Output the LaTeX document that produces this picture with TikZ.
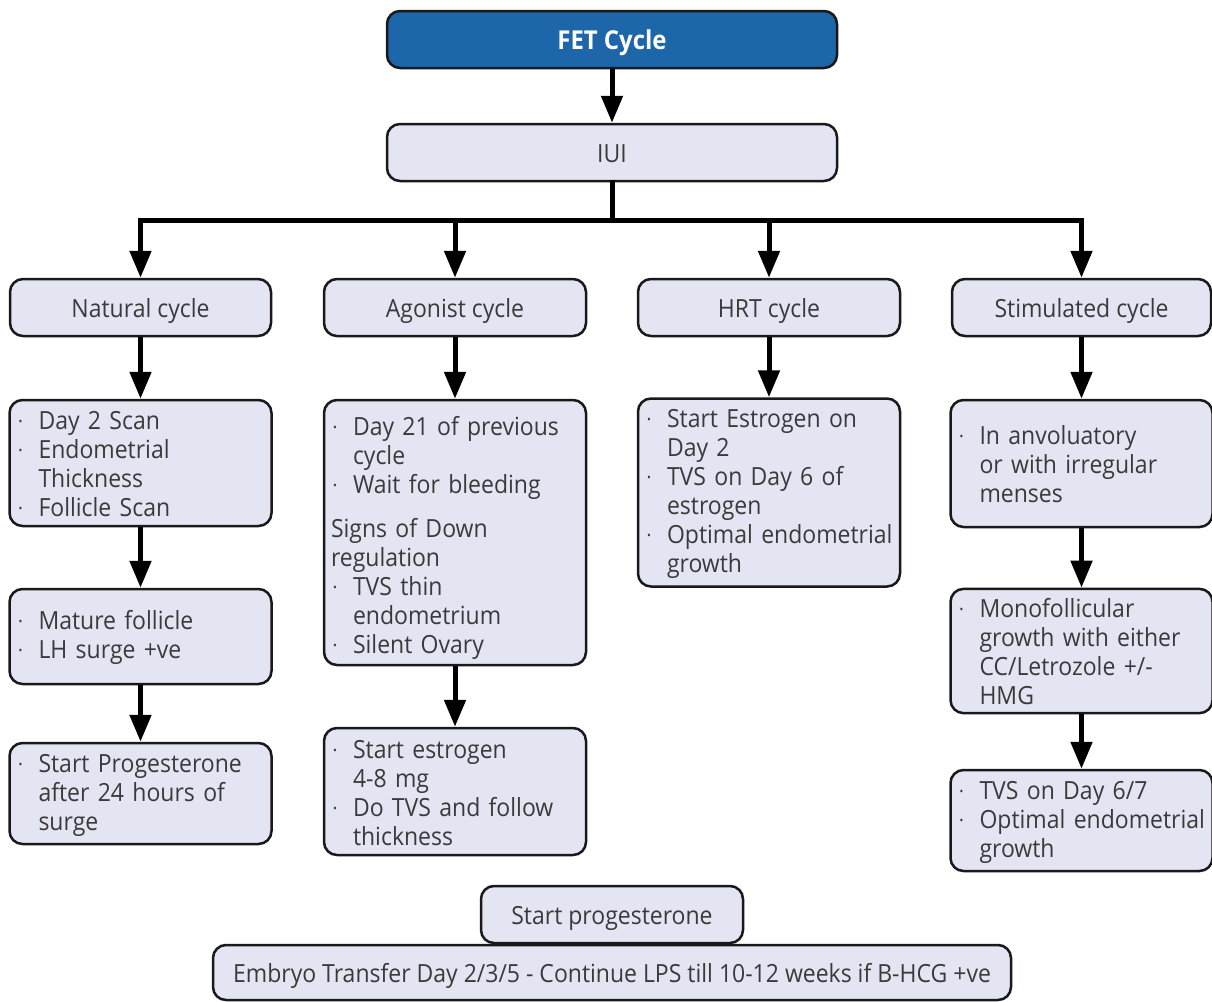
\documentclass[tikz,border=0pt]{standalone}
\usepackage{fontspec}
\setmainfont{Open Sans}[FakeStretch=0.92]
\usetikzlibrary{arrows.meta}
\definecolor{boxfill}{HTML}{E3E5F3}
\definecolor{topblue}{HTML}{1D66A9}
\definecolor{txt}{HTML}{3A3A3A}
\newcommand\bdot{\raisebox{4pt}{\fontsize{11}{11}\selectfont\textbullet}}
\newcommand\bitem[1]{\par\noindent\makebox[22pt][l]{\kern2pt\bdot}\mbox{#1}}
\newcommand\contl[1]{\par\noindent\hspace*{22pt}\mbox{#1}}
\newcommand\plainl[1]{\par\noindent\mbox{#1}}
\newcommand\tailpad{\par\nointerlineskip\vbox to 8pt{}}
\tikzset{
  box/.style={draw=black!90, line width=2.5pt, rounded corners=13pt, fill=boxfill, text=txt,
    font=\fontsize{25}{29}\selectfont, inner sep=0pt},
  hbox/.style={box, minimum height=57pt, text height=24pt, text depth=4pt},
  bbox/.style={box, text width=248pt, inner xsep=7pt, align=left, minimum width=262pt},
  arr/.style={line width=5pt, -{Triangle[length=27pt,width=21pt]}},
  busline/.style={line width=5pt, line cap=rect}
}
\begin{document}
\begin{tikzpicture}[x=1pt,y=-1pt]
\fill[white] (0,0) rectangle (1212,1001);
\useasboundingbox (0,0) rectangle (1212,1001);

\node[hbox, fill=topblue, text=white, minimum width=450pt, font=\fontsize{26}{29}\selectfont\bfseries] (fet) at (612,39.5) {FET Cycle};
\node[hbox, minimum width=450pt] (iui) at (612,152.5) {IUI};

\node[hbox, minimum width=261pt] (nat) at (140.5,307.5) {Natural cycle};
\node[hbox, minimum width=262pt] (ago) at (455,307.5) {Agonist cycle};
\node[hbox, minimum width=262pt] (hrt) at (769,307.5) {HRT cycle};
\node[hbox, minimum width=259pt] (sti) at (1081.5,307.5) {Stimulated cycle};

\node[bbox, minimum width=261pt, minimum height=126pt] (nat3) at (140.5,463) {%
\bitem{Day 2 Scan}\bitem{Endometrial}\contl{Thickness}\bitem{Follicle Scan}\tailpad};
\node[bbox, minimum height=265pt] (ago3) at (455,532.5) {%
\bitem{Day 21 of previous}\contl{cycle}\bitem{Wait for bleeding}\par\vspace{15pt}%
\plainl{Signs of Down}\plainl{regulation}\bitem{TVS thin}\contl{endometrium}\bitem{Silent Ovary}};
\node[bbox, minimum height=185pt] (hrt3) at (769,492.5) {%
\bitem{Start Estrogen on}\contl{Day 2}\bitem{TVS on Day 6 of}\contl{estrogen}\bitem{Optimal endometrial}\contl{growth}\tailpad};
\node[bbox, minimum width=259pt, minimum height=127pt] (sti3) at (1081.5,463.5) {%
\bitem{In anvoluatory}\contl{or with irregular}\contl{menses}\tailpad};

\node[bbox, minimum width=261pt, minimum height=95pt] (nat4) at (140.5,636.5) {%
\bitem{Mature follicle}\bitem{LH surge +ve}\tailpad};
\node[bbox, minimum height=127pt] (ago4) at (455,791.5) {%
\bitem{Start estrogen}\contl{4-8 mg}\bitem{Do TVS and follow}\contl{thickness}\tailpad};
\node[bbox, minimum width=259pt, minimum height=124pt] (sti4) at (1081.5,651) {%
\bitem{Monofollicular}\contl{growth with either}\contl{CC/Letrozole +/-}\contl{HMG}\tailpad};

\node[bbox, minimum width=261pt, minimum height=95pt] (nat5) at (140.5,793.5) {%
\bitem{Start Progesterone}\contl{after 24 hours of}\contl{surge}\tailpad};
\node[bbox, minimum width=259pt, minimum height=95pt] (sti5) at (1081.5,820.5) {%
\bitem{TVS on Day 6/7}\bitem{Optimal endometrial}\contl{growth}\tailpad};

\node[hbox, minimum width=262pt] (sp) at (612,914.5) {Start progesterone};
\node[hbox, minimum width=798pt, minimum height=55pt] (emb) at (612,972.5) {Embryo Transfer Day 2/3/5 - Continue LPS till 10-12 weeks if B-HCG +ve};

% connectors
\draw[arr] (fet) -- (iui);
\draw[busline] (iui.south) -- ++(0,38) coordinate (bus);
\draw[busline] (nat.north |- bus) -- (sti.north |- bus);
\draw[arr] (nat.north |- bus) -- (nat.north);
\draw[arr] (ago.north |- bus) -- (ago.north);
\draw[arr] (hrt.north |- bus) -- (hrt.north);
\draw[arr] (sti.north |- bus) -- (sti.north);

\draw[arr] (nat) -- (nat3);
\draw[arr] (nat3) -- (nat4);
\draw[arr] (nat4) -- (nat5);
\draw[arr] (ago) -- (ago3);
\draw[arr] (ago3) -- (ago4);
\draw[arr] (hrt) -- (hrt3);
\draw[arr] (sti) -- (sti3);
\draw[arr] (sti3) -- (sti4);
\draw[arr] (sti4) -- (sti5);
\end{tikzpicture}
\end{document}
